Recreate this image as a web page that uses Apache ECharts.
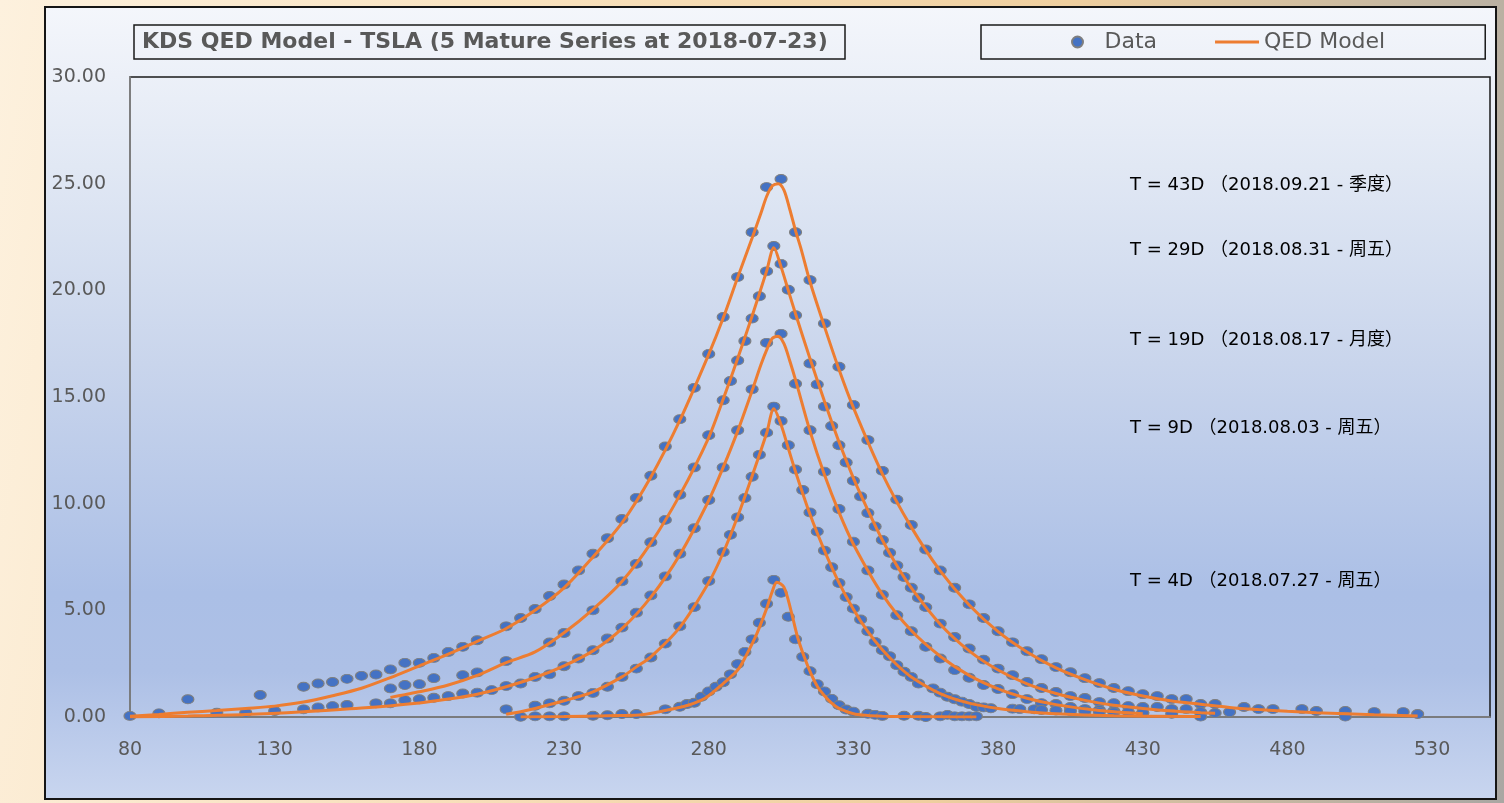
<!DOCTYPE html>
<html>
<head>
<meta charset="utf-8">
<script src="https://cdn.jsdelivr.net/npm/echarts@6/dist/echarts.min.js"></script>
<style>
  html, body { margin: 0; padding: 0; width: 1504px; height: 803px; overflow: hidden; }
  body { background: linear-gradient(100deg, #fdf1de 0%, #f8e0bb 35%, #efcf9f 65%, #a9a7a3 100%); position: relative; }
  #frame { position: absolute; left: 44px; top: 6px; width: 1453px; height: 794px; box-sizing: border-box;
           border: 2px solid #151515;
           background: linear-gradient(to bottom, #f4f6fb 0%, #e1e8f4 20%, #c9d5ec 45%, #abbfe6 74%, #adc0e6 84%, #c8d5ef 100%); }
  #chart { position: absolute; left: 0; top: 0; width: 1504px; height: 803px; }
</style>
</head>
<body>
<div id="frame"></div>
<div id="chart"></div>
<script>
// ---- Data (strike, option price) ----
const data43 = [[80,0.05],[90,0.17],[100,0.83],[125,1.03],[140,1.42],[145,1.57],[150,1.64],[155,1.79],[160,1.93],[165,1.99],[170,2.23],[175,2.54],[180,2.54],[185,2.77],[190,3.05],[195,3.29],[200,3.6],[210,4.25],[215,4.64],[220,5.06],[225,5.67],[230,6.21],[235,6.87],[240,7.65],[245,8.38],[250,9.28],[255,10.27],[260,11.31],[265,12.68],[270,13.96],[275,15.43],[280,17.02],[285,18.75],[290,20.62],[295,22.72],[300,24.84],[305,25.22],[310,22.72],[315,20.48],[320,18.45],[325,16.42],[330,14.63],[335,12.98],[340,11.54],[345,10.19],[350,9.0],[355,7.85],[360,6.87],[365,6.06],[370,5.28],[375,4.64],[380,4.02],[385,3.5],[390,3.08],[395,2.71],[400,2.34],[405,2.1],[410,1.82],[415,1.59],[420,1.36],[425,1.21],[430,1.07],[435,0.98],[440,0.84],[445,0.84],[450,0.61],[455,0.61],[460,0.23],[465,0.47],[470,0.37],[475,0.37],[485,0.37],[490,0.28],[500,0.28],[510,0.23],[520,0.23],[525,0.14]];
const data29 = [[170,1.34],[175,1.5],[180,1.54],[185,1.82],[195,1.96],[200,2.09],[210,2.62],[225,3.49],[230,3.94],[240,5.0],[250,6.36],[255,7.18],[260,8.19],[265,9.24],[270,10.42],[275,11.7],[280,13.21],[285,14.85],[287.5,15.75],[290,16.71],[292.5,17.62],[295,18.68],[297.5,19.72],[300,20.89],[302.5,22.08],[305,21.24],[307.5,20.03],[310,18.83],[315,16.57],[317.5,15.59],[320,14.55],[322.5,13.64],[325,12.74],[327.5,11.93],[330,11.07],[332.5,10.34],[335,9.56],[337.5,8.93],[340,8.3],[342.5,7.7],[345,7.1],[347.5,6.56],[350,6.06],[352.5,5.59],[355,5.15],[360,4.38],[365,3.75],[370,3.21],[375,2.69],[380,2.27],[385,1.96],[390,1.64],[395,1.36],[400,1.17],[405,0.98],[410,0.89],[415,0.7],[420,0.65],[425,0.51],[430,0.47],[435,0.47],[440,0.37],[445,0.37],[450,0.23],[455,0.19]];
const data19 = [[110,0.2],[120,0.2],[130,0.28],[140,0.36],[145,0.45],[150,0.51],[155,0.56],[165,0.64],[170,0.64],[175,0.79],[180,0.83],[185,0.9],[190,0.98],[195,1.1],[200,1.14],[205,1.26],[210,1.45],[215,1.57],[220,1.88],[225,2.0],[230,2.38],[235,2.74],[240,3.13],[245,3.68],[250,4.19],[255,4.89],[260,5.7],[265,6.59],[270,7.65],[275,8.85],[280,10.17],[285,11.7],[290,13.44],[295,15.36],[300,17.54],[305,17.96],[310,15.62],[315,13.44],[320,11.5],[325,9.75],[330,8.22],[335,6.87],[340,5.73],[345,4.77],[350,4.02],[355,3.29],[360,2.74],[365,2.2],[370,1.84],[375,1.5],[380,1.31],[385,1.07],[390,0.84],[395,0.65],[400,0.61],[405,0.47],[410,0.37],[415,0.33],[420,0.28],[425,0.23],[430,0.19]];
const data9 = [[210,0.36],[220,0.53],[225,0.64],[230,0.76],[235,0.98],[240,1.13],[245,1.42],[250,1.88],[255,2.27],[260,2.79],[265,3.44],[270,4.25],[275,5.15],[280,6.37],[285,7.73],[287.5,8.54],[290,9.36],[292.5,10.27],[295,11.26],[297.5,12.29],[300,13.33],[302.5,14.55],[305,13.88],[307.5,12.74],[310,11.6],[312.5,10.64],[315,9.59],[317.5,8.69],[320,7.8],[322.5,7.02],[325,6.28],[327.5,5.62],[330,5.08],[332.5,4.57],[335,4.02],[337.5,3.52],[340,3.13],[342.5,2.85],[345,2.43],[347.5,2.12],[350,1.88],[352.5,1.57],[357.5,1.34],[360,1.14],[362.5,0.95],[365,0.83],[367.5,0.72],[370,0.61],[372.5,0.48],[375,0.45],[377.5,0.41],[385,0.39],[387.5,0.37],[392.5,0.36],[395,0.33],[400,0.3],[405,0.28],[410,0.26],[415,0.24],[420,0.22],[430,0.2],[440,0.15],[450,0.02],[500,0.02]];
const data4 = [[215,0.01],[220,0.03],[225,0.03],[230,0.03],[240,0.06],[245,0.08],[250,0.14],[255,0.14],[265,0.36],[270,0.48],[272.5,0.61],[275,0.67],[277.5,0.95],[280,1.2],[282.5,1.42],[285,1.63],[287.5,2.0],[290,2.48],[292.5,3.05],[295,3.64],[297.5,4.42],[300,5.31],[302.5,6.43],[305,5.82],[307.5,4.7],[310,3.64],[312.5,2.82],[315,2.15],[317.5,1.54],[320,1.2],[322.5,0.85],[325,0.55],[327.5,0.35],[330,0.25],[335,0.15],[337.5,0.1],[340,0.05],[347.5,0.06],[352.5,0.06],[355,0.0],[360,0.03],[362.5,0.1],[365,0.03],[367.5,0.03],[370,0.03],[372.5,0.03]];

// ---- QED model curves ----
const model43 = [[80,0.03],[90,0.12],[100,0.22],[110,0.3],[120,0.4],[130,0.51],[140,0.7],[150,1.0],[160,1.35],[170,1.85],[180,2.4],[190,2.95],[200,3.55],[210,4.15],[220,5.0],[230,6.05],[240,7.5],[250,9.1],[260,11.25],[270,13.9],[280,17.0],[285,18.7],[290,20.6],[295,22.45],[298,23.6],[300,24.4],[302,24.9],[304,25.0],[306,24.7],[308,23.8],[310,22.8],[312,21.9],[315,20.4],[320,18.3],[325,16.3],[330,14.5],[340,11.4],[350,8.9],[360,6.85],[370,5.25],[380,4.0],[390,3.05],[400,2.3],[410,1.75],[420,1.3],[430,0.98],[440,0.75],[450,0.6],[460,0.45],[470,0.35],[480,0.27],[490,0.2],[500,0.15],[510,0.1],[525,0.05]];
const model29 = [[170,0.92],[175,1.05],[180,1.18],[190,1.5],[200,1.95],[210,2.55],[220,3.05],[230,3.95],[240,5.05],[250,6.35],[260,8.15],[270,10.4],[280,13.1],[285,14.9],[290,16.8],[295,18.8],[300,20.9],[302.5,22.0],[305,21.1],[307.5,20.0],[310,18.9],[315,16.8],[320,14.8],[325,12.9],[330,11.2],[335,9.7],[340,8.3],[345,7.1],[350,6.05],[360,4.35],[370,3.1],[380,2.2],[390,1.55],[400,1.1],[410,0.78],[420,0.55],[430,0.4],[440,0.28],[450,0.2],[455,0.17]];
const model19 = [[80,0.0],[100,0.05],[120,0.12],[140,0.25],[160,0.42],[180,0.66],[190,0.84],[200,1.07],[210,1.42],[220,1.85],[230,2.4],[240,3.1],[250,4.14],[260,5.62],[270,7.6],[280,10.15],[285,11.7],[290,13.4],[295,15.3],[298,16.5],[300,17.2],[302,17.75],[304,17.85],[306,17.5],[308,16.7],[310,15.8],[315,13.4],[320,11.35],[325,9.6],[330,8.1],[340,5.75],[350,4.05],[360,2.85],[370,1.95],[380,1.32],[390,0.88],[400,0.58],[415,0.3],[430,0.15]];
const model9 = [[210,0.13],[215,0.25],[220,0.4],[230,0.76],[240,1.18],[250,1.88],[255,2.35],[260,2.82],[270,4.2],[280,6.3],[285,7.7],[290,9.4],[295,11.3],[300,13.3],[302.5,14.45],[305,13.7],[307.5,12.6],[310,11.5],[315,9.5],[320,7.8],[325,6.3],[330,5.05],[335,4.0],[340,3.15],[345,2.45],[350,1.88],[360,1.1],[370,0.65],[380,0.4],[390,0.25],[400,0.15],[420,0.06],[450,0.02]];
const model4 = [[215,0.0],[230,0.02],[245,0.06],[256,0.09],[263,0.25],[271,0.48],[275,0.65],[279.5,0.95],[285,1.57],[290,2.2],[293,2.9],[296.6,3.9],[300,5.08],[302,5.9],[303.5,6.32],[306,6.09],[308.4,5.0],[310.7,3.75],[313,2.82],[315.3,2.04],[317.6,1.42],[320,1.0],[322.5,0.65],[325,0.4],[330,0.15],[335,0.07],[340,0.04],[350,0.02],[360,0.01],[372.5,0.0]];

// ---- Text ----
const titleText = 'KDS QED Model - TSLA (5 Mature Series at 2018-07-23)';
const annotations = [
  { text: 'T = 43D （2018.09.21 - 季度）', y: 184 },
  { text: 'T = 29D （2018.08.31 - 周五）', y: 249 },
  { text: 'T = 19D （2018.08.17 - 月度）', y: 339 },
  { text: 'T = 9D （2018.08.03 - 周五）', y: 427 },
  { text: 'T = 4D （2018.07.27 - 周五）', y: 580 }
];

const dataSets = [data43, data29, data19, data9, data4];
const modelSets = [model43, model29, model19, model9, model4];

const FONT = '"DejaVu Sans", "Noto Sans CJK SC", sans-serif';
const chart = echarts.init(document.getElementById('chart'), null, { renderer: 'canvas' });

const series = [];
dataSets.forEach(d => series.push({
  name: 'Data', type: 'scatter', data: d, z: 2,
  symbol: 'circle', symbolSize: [12, 9],
  itemStyle: { color: '#4472c4', borderColor: '#7f7f7f', borderWidth: 1.0, opacity: 1 }
}));
modelSets.forEach(m => series.push({
  name: 'QED Model', type: 'line', data: m, z: 5,
  symbol: 'none', smooth: 0.3,
  lineStyle: { color: '#ed7d31', width: 3 }, itemStyle: { color: '#ed7d31' }
}));

chart.setOption({
  backgroundColor: 'transparent',
  animation: false,
  textStyle: { fontFamily: FONT },
  title: {
    text: titleText, left: 134, top: 25,
    padding: [6, 18, 6, 8],
    borderColor: '#1a1a1a', borderWidth: 1.5,
    textStyle: { fontFamily: FONT, fontSize: 22, fontWeight: 'bold', color: '#595959', lineHeight: 22 }
  },
  legend: {
    data: [
      { name: 'Data', icon: 'circle' },
      { name: 'QED Model', icon: 'path://M0,0L44,0L44,3L0,3Z' }
    ],
    left: 981, top: 25,
    padding: [6, 100, 6, 90],
    itemGap: 58, itemWidth: 44, itemHeight: 11,
    borderColor: '#1a1a1a', borderWidth: 1.5,
    selectedMode: false,
    textStyle: { fontFamily: FONT, fontSize: 22, color: '#595959', lineHeight: 22 }
  },
  grid: {
    left: 130, right: 14, top: 77, bottom: 86,
    show: true, borderColor: '#1a1a1a', borderWidth: 1.5, backgroundColor: 'transparent'
  },
  xAxis: {
    type: 'value', min: 80, max: 550, interval: 50,
    axisLine: { show: true, onZero: false, lineStyle: { color: '#8f8f8f', width: 1.5 } },
    axisTick: { show: false },
    splitLine: { show: false },
    axisLabel: { showMaxLabel: false, margin: 24, fontSize: 19, color: '#595959', fontFamily: FONT }
  },
  yAxis: {
    type: 'value', min: 0, max: 30, interval: 5,
    axisLine: { show: true, lineStyle: { color: '#8f8f8f', width: 1.5 } },
    axisTick: { show: false },
    splitLine: { show: false },
    axisLabel: { margin: 24, fontSize: 19, color: '#595959', fontFamily: FONT,
                 formatter: v => v.toFixed(2) }
  },
  graphic: annotations.map(a => ({
    type: 'text', left: 1130, top: a.y - 8, z: 10,
    style: { text: a.text, fill: '#000', fontSize: 18, fontFamily: FONT }
  })),
  series: series
});
</script>
</body>
</html>
